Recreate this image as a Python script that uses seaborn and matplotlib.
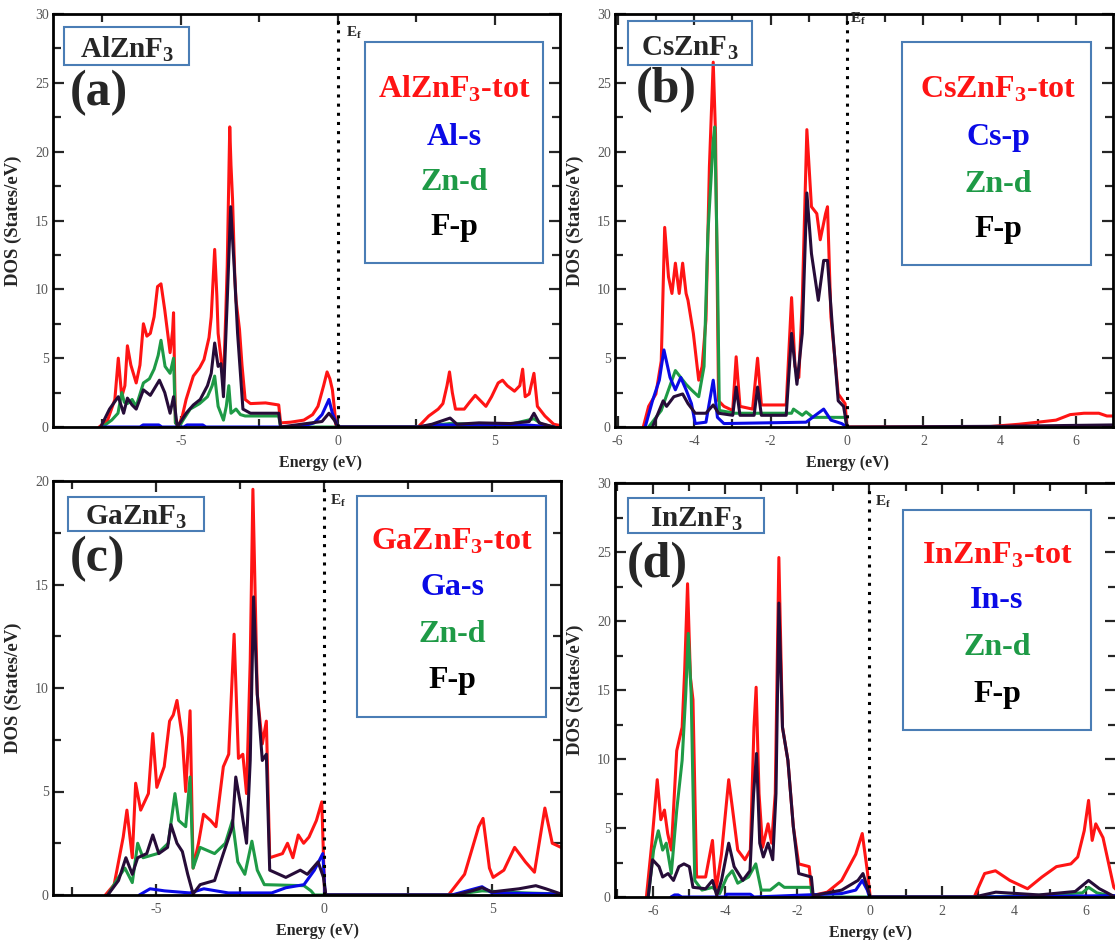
import matplotlib
matplotlib.use("Agg")
import matplotlib.pyplot as plt
import matplotlib.patches as mpatches
from matplotlib.ticker import MultipleLocator
import seaborn as sns

# ---------------- data (energy in eV, DOS in states/eV) ----------------
# Panel (a) AlZnF3
a_tot_E = [-7.6, -7.33, -7.1, -6.99, -6.88, -6.78, -6.7, -6.59, -6.42, -6.3, -6.19, -6.08, -5.97, -5.85, -5.74, -5.63, -5.51, -5.4, -5.34, -5.26, -5.23, -5.17, -5.06, -4.95, -4.83, -4.6, -4.4, -4.26, -4.1, -4.03, -3.92, -3.85, -3.81, -3.72, -3.64, -3.57, -3.52, -3.44, -3.4, -3.35, -3.28, -3.24, -3.13, -3.05, -2.95, -2.78, -2.3, -1.88, -1.82, -1.5, -1.08, -0.8, -0.63, -0.45, -0.34, -0.25, -0.17, -0.1, -0.06, 0.0, 2.56, 2.9, 3.2, 3.35, 3.48, 3.56, 3.65, 3.75, 4.03, 4.2, 4.38, 4.55, 4.72, 4.9, 5.11, 5.25, 5.4, 5.63, 5.8, 5.89, 5.97, 6.1, 6.25, 6.36, 6.6, 6.88, 7.1]
a_tot_V = [0, 0.5, 2.0, 5.0, 2.2, 3.0, 5.9, 4.5, 3.2, 4.5, 7.5, 6.6, 6.8, 8.0, 10.2, 10.4, 8.5, 6.5, 5.4, 7.0, 8.3, 0.3, 0.1, 0.8, 2.0, 3.7, 4.3, 4.9, 6.5, 8.0, 12.9, 9.5, 6.8, 5.0, 3.2, 8.0, 11.7, 21.8, 19.0, 16.5, 11.0, 9.2, 7.1, 4.5, 2.0, 1.7, 1.75, 1.6, 0.3, 0.35, 0.5, 0.9, 1.5, 3.0, 4.0, 3.5, 2.7, 1.2, 0.15, 0.0, 0.0, 0.8, 1.3, 1.7, 3.0, 4.0, 2.5, 1.3, 1.3, 1.8, 2.3, 1.9, 1.5, 2.2, 3.2, 3.4, 3.0, 2.6, 3.0, 4.2, 2.2, 2.4, 3.9, 1.5, 0.8, 0.2, 0.1]
a_zn_E = [-7.5, -7.2, -7.0, -6.88, -6.8, -6.7, -6.55, -6.42, -6.19, -6.0, -5.85, -5.72, -5.63, -5.5, -5.34, -5.23, -5.17, -5.06, -4.9, -4.7, -4.4, -4.15, -4.0, -3.92, -3.81, -3.64, -3.55, -3.47, -3.4, -3.24, -3.1, -2.95, -1.88, -1.82, 2.6, 3.56, 4.5, 5.5, 6.25, 6.5, 6.9]
a_zn_V = [0, 0.5, 1.0, 2.5, 1.8, 1.7, 2.0, 1.5, 3.2, 3.5, 4.2, 5.2, 6.3, 4.4, 3.9, 5.0, 0.3, 0.0, 0.6, 1.3, 1.7, 2.2, 3.0, 3.7, 1.5, 0.5, 1.5, 3.0, 1.0, 1.3, 0.9, 0.8, 0.8, 0.0, 0.0, 0.25, 0.2, 0.2, 0.6, 0.2, 0.0]
a_al_E = [-7.5, -6.3, -6.2, -5.7, -5.6, -4.9, -4.8, -4.3, -4.2, -1.2, -0.75, -0.5, -0.28, -0.17, -0.05, 0.0, 2.6, 3.0, 4.5, 6.0, 6.9]
a_al_V = [0, 0.0, 0.15, 0.15, 0.0, 0.0, 0.15, 0.15, 0.0, 0.0, 0.3, 0.9, 2.0, 1.0, 0.3, 0.0, 0.0, 0.15, 0.15, 0.15, 0.0]
a_f_E = [-7.55, -7.27, -6.99, -6.82, -6.7, -6.55, -6.42, -6.19, -5.97, -5.68, -5.51, -5.34, -5.23, -5.11, -4.83, -4.6, -4.38, -4.15, -4.03, -3.92, -3.81, -3.72, -3.64, -3.52, -3.41, -3.3, -3.19, -3.02, -2.78, -1.88, -1.82, -0.5, -0.28, -0.11, 0.0, 2.56, 3.0, 3.58, 3.8, 4.5, 5.5, 6.1, 6.25, 6.42, 6.88]
a_f_V = [0, 1.3, 2.2, 1.0, 2.1, 1.6, 1.3, 2.7, 2.3, 3.4, 2.5, 1.0, 2.2, 0.0, 1.0, 1.6, 2.0, 3.0, 3.9, 6.1, 4.4, 4.6, 2.2, 9.2, 16.0, 11.7, 6.8, 1.3, 1.0, 1.0, 0.0, 0.4, 1.0, 0.5, 0.0, 0.0, 0.2, 0.65, 0.2, 0.3, 0.25, 0.4, 1.0, 0.3, 0.0]

# Panel (b) CsZnF3
b_tot_E = [-5.33, -5.19, -5.0, -4.86, -4.77, -4.67, -4.58, -4.49, -4.39, -4.3, -4.21, -4.16, -4.02, -3.88, -3.79, -3.69, -3.6, -3.5, -3.44, -3.36, -3.22, -2.99, -2.9, -2.8, -2.47, -2.34, -2.24, -1.59, -1.45, -1.36, -1.26, -1.17, -1.05, -0.93, -0.79, -0.7, -0.56, -0.51, -0.42, -0.23, -0.05, 0.0, 3.6, 4.5, 5.0, 5.47, 5.84, 6.2, 6.59, 6.8, 6.96]
b_tot_V = [0, 1.5, 2.4, 4.8, 14.5, 10.9, 9.7, 11.9, 9.7, 11.9, 9.7, 9.2, 6.8, 3.4, 4.4, 7.8, 18.9, 26.5, 21.3, 1.9, 1.5, 1.2, 5.1, 1.5, 1.3, 5.0, 1.6, 1.6, 9.4, 4.4, 3.6, 9.2, 21.6, 16.0, 15.5, 13.6, 15.5, 16.0, 8.0, 2.4, 1.7, 0.0, 0.0, 0.2, 0.35, 0.5, 0.9, 1.0, 1.0, 0.8, 0.8]
b_zn_E = [-5.19, -4.86, -4.67, -4.49, -4.35, -4.21, -4.07, -3.88, -3.74, -3.64, -3.5, -3.46, -3.39, -3.34, -2.94, -1.45, -1.4, -1.17, -1.07, -0.89, -0.05, 0.0]
b_zn_V = [0, 1.2, 2.7, 4.1, 3.6, 3.1, 2.7, 2.2, 4.4, 14.0, 20.8, 21.8, 11.6, 1.2, 1.0, 1.0, 1.3, 0.85, 1.1, 0.7, 0.7, 0.0]
b_cs_E = [-5.28, -5.09, -4.91, -4.79, -4.63, -4.49, -4.35, -4.21, -4.07, -3.97, -3.69, -3.5, -3.39, -3.22, -1.07, -0.61, -0.42, -0.14, 0.0]
b_cs_V = [0, 1.9, 3.4, 5.6, 3.6, 2.7, 3.6, 2.7, 1.7, 0.25, 0.35, 3.4, 0.7, 0.25, 0.35, 1.3, 0.5, 0.25, 0.0]
b_f_E = [-5.09, -4.81, -4.72, -4.53, -4.3, -4.16, -3.97, -3.69, -3.5, -3.36, -2.99, -2.9, -2.8, -2.43, -2.34, -2.24, -1.59, -1.45, -1.31, -1.17, -1.05, -0.93, -0.75, -0.61, -0.51, -0.37, -0.23, -0.09, 0.0, 4.0, 6.96]
b_f_V = [0, 1.9, 1.5, 2.2, 2.4, 1.7, 1.0, 1.0, 1.6, 1.0, 0.85, 2.9, 0.85, 0.85, 2.9, 0.85, 0.85, 6.8, 3.1, 6.8, 17.0, 12.6, 9.2, 12.1, 12.1, 6.8, 1.9, 1.5, 0.0, 0.05, 0.15]

# Panel (c) GaZnF3
c_tot_E = [-6.51, -6.25, -5.98, -5.87, -5.71, -5.61, -5.46, -5.23, -5.1, -4.98, -4.76, -4.6, -4.49, -4.38, -4.22, -4.12, -3.99, -3.9, -3.74, -3.59, -3.38, -3.22, -3.0, -2.84, -2.68, -2.55, -2.42, -2.31, -2.2, -2.12, -1.99, -1.84, -1.72, -1.62, -1.24, -1.09, -0.93, -0.77, -0.61, -0.45, -0.23, -0.07, 0.01, 0.05, 3.7, 4.18, 4.6, 4.73, 4.92, 5.03, 5.35, 5.67, 5.99, 6.26, 6.57, 6.79, 7.05]
c_tot_V = [0, 0.5, 2.8, 4.1, 1.8, 5.4, 4.1, 4.9, 7.8, 5.2, 6.2, 8.4, 8.7, 9.4, 7.6, 5.0, 8.9, 1.3, 2.5, 3.9, 3.6, 3.3, 6.2, 6.8, 12.6, 6.6, 6.8, 4.9, 11.3, 19.6, 9.7, 7.3, 8.4, 1.8, 2.0, 2.5, 1.8, 2.9, 2.5, 2.8, 3.6, 4.5, 0.35, 0.0, 0.0, 1.0, 3.3, 3.7, 1.3, 0.85, 1.2, 2.3, 1.6, 1.1, 4.2, 2.5, 2.3]
c_zn_E = [-6.44, -6.12, -5.93, -5.71, -5.55, -5.39, -4.96, -4.64, -4.44, -4.33, -4.12, -3.99, -3.9, -3.69, -3.26, -2.94, -2.73, -2.57, -2.36, -2.15, -1.99, -1.78, -0.6, -0.39, -0.29, 3.8, 4.7, 6.0, 7.05]
c_zn_V = [0, 0.85, 1.3, 0.6, 2.5, 1.8, 2.0, 2.5, 4.9, 3.6, 3.3, 5.7, 1.3, 2.3, 2.0, 2.5, 3.6, 1.6, 1.0, 2.6, 1.2, 0.5, 0.45, 0.2, 0.0, 0.0, 0.2, 0.1, 0.05]
c_ga_E = [-5.5, -5.18, -4.75, -4.0, -3.58, -2.85, -1.56, -1.14, -0.6, -0.29, -0.04, 0.03, 3.8, 4.7, 5.0, 7.05]
c_ga_V = [0, 0.3, 0.2, 0.1, 0.3, 0.1, 0.1, 0.35, 0.5, 1.2, 2.0, 0.0, 0.0, 0.4, 0.1, 0.05]
c_f_E = [-6.44, -6.12, -5.9, -5.71, -5.55, -5.28, -5.1, -4.92, -4.66, -4.56, -4.38, -4.22, -4.06, -3.9, -3.69, -3.26, -3.0, -2.73, -2.63, -2.47, -2.31, -2.2, -2.1, -1.99, -1.84, -1.72, -1.62, -1.14, -0.71, -0.5, -0.18, -0.02, 0.05, 3.9, 4.4, 4.7, 5.0, 5.8, 6.3, 6.6, 7.05]
c_f_V = [0, 0.7, 1.8, 1.0, 1.8, 2.0, 2.9, 2.0, 2.3, 3.4, 2.5, 2.1, 1.0, 0.05, 0.5, 0.7, 2.0, 3.3, 5.7, 4.2, 2.5, 6.5, 14.4, 9.7, 6.5, 6.8, 1.2, 0.85, 1.2, 1.0, 1.6, 0.85, 0.0, 0.0, 0.2, 0.35, 0.15, 0.3, 0.45, 0.3, 0.05]

# Panel (d) InZnF3
d_tot_E = [-6.18, -6.03, -5.88, -5.78, -5.68, -5.59, -5.49, -5.34, -5.19, -5.12, -5.04, -4.96, -4.89, -4.79, -4.54, -4.35, -4.25, -4.1, -3.9, -3.8, -3.65, -3.45, -3.3, -3.2, -3.14, -3.06, -2.96, -2.81, -2.71, -2.61, -2.51, -2.41, -2.26, -2.11, -1.96, -1.67, -1.59, -1.17, -0.77, -0.38, -0.2, -0.06, 0.02, 2.9, 3.19, 3.49, 3.89, 4.38, 4.78, 5.18, 5.58, 5.77, 5.95, 6.07, 6.17, 6.27, 6.47, 6.77, 6.85]
d_tot_V = [0, 3.9, 8.5, 5.6, 6.3, 4.6, 3.4, 10.6, 12.3, 16.4, 22.7, 15.9, 14.3, 1.45, 1.45, 4.1, 0.5, 3.1, 8.5, 6.5, 3.4, 2.7, 3.4, 12.3, 15.2, 7.5, 3.6, 5.3, 3.9, 7.5, 24.6, 12.3, 9.9, 5.1, 2.4, 2.2, 0.1, 0.35, 1.2, 3.1, 4.6, 1.9, 0.0, 0.0, 1.7, 1.9, 1.2, 0.6, 1.45, 2.2, 2.4, 2.9, 4.8, 7.0, 4.1, 5.3, 4.3, 0.7, 0.5]
d_zn_E = [-6.13, -5.98, -5.85, -5.73, -5.63, -5.49, -5.34, -5.19, -5.09, -5.02, -4.94, -4.84, -4.64, -4.35, -4.15, -3.95, -3.8, -3.65, -3.35, -3.15, -3.0, -2.75, -2.51, -2.36, -1.62, -1.59, 3.0, 4.5, 5.9, 6.07, 6.3, 6.85]
d_zn_V = [0, 3.4, 4.8, 3.4, 3.9, 1.7, 6.3, 9.9, 14.7, 19.1, 14.7, 1.2, 0.5, 0.7, 0.25, 1.45, 1.9, 1.0, 1.45, 2.4, 0.5, 0.5, 1.0, 0.7, 0.7, 0.0, 0.0, 0.1, 0.3, 0.7, 0.3, 0.0]
d_in_E = [-5.5, -5.4, -5.3, -5.2, -4.0, -3.95, -3.3, -3.2, -0.77, -0.38, -0.2, -0.06, 0.0, 3.0, 6.85]
d_in_V = [0, 0.15, 0.15, 0.0, 0.0, 0.2, 0.2, 0.0, 0.25, 0.5, 1.2, 0.5, 0.0, 0.0, 0.1]
d_f_E = [-6.13, -6.01, -5.83, -5.73, -5.58, -5.43, -5.28, -5.14, -4.99, -4.89, -4.54, -4.35, -4.23, -4.1, -3.9, -3.75, -3.51, -3.31, -3.21, -3.13, -3.04, -2.94, -2.81, -2.68, -2.59, -2.51, -2.41, -2.26, -2.11, -1.96, -1.61, -1.56, -0.77, -0.32, -0.18, -0.06, 0.02, 2.9, 3.5, 4.7, 5.7, 6.07, 6.37, 6.77]
d_f_V = [0, 2.7, 2.2, 1.45, 1.7, 1.2, 2.2, 2.4, 2.2, 0.7, 0.6, 1.2, 0.1, 1.2, 3.9, 2.2, 1.2, 1.9, 7.5, 10.4, 3.9, 2.9, 3.9, 2.7, 7.5, 21.3, 12.3, 9.9, 5.1, 1.7, 1.45, 0.1, 0.5, 1.2, 1.7, 0.7, 0.0, 0.0, 0.35, 0.15, 0.4, 1.2, 0.6, 0.05]

compounds = ["AlZn", "CsZn", "GaZn", "InZn"]
panel_tags = ["(a)", "(b)", "(c)", "(d)"]
partial_names = [["Al-s", "Zn-d", "F-p"], ["Cs-p", "Zn-d", "F-p"],
                 ["Ga-s", "Zn-d", "F-p"], ["In-s", "Zn-d", "F-p"]]
series = [
    [(a_tot_E, a_tot_V), (a_zn_E, a_zn_V), (a_al_E, a_al_V), (a_f_E, a_f_V)],
    [(b_tot_E, b_tot_V), (b_zn_E, b_zn_V), (b_cs_E, b_cs_V), (b_f_E, b_f_V)],
    [(c_tot_E, c_tot_V), (c_zn_E, c_zn_V), (c_ga_E, c_ga_V), (c_f_E, c_f_V)],
    [(d_tot_E, d_tot_V), (d_zn_E, d_zn_V), (d_in_E, d_in_V), (d_f_E, d_f_V)],
]

# ---------------- style ----------------
sns.set_style("ticks")
plt.rcParams["font.family"] = ["Liberation Serif", "DejaVu Serif"]
plt.rcParams["mathtext.fontset"] = "custom"
plt.rcParams["mathtext.rm"] = "Liberation Serif"
plt.rcParams["mathtext.bf"] = "Liberation Serif:bold"
plt.rcParams["mathtext.it"] = "Liberation Serif:italic"
plt.rcParams["axes.unicode_minus"] = False

RED, GREEN, BLUE, DARK = "#ff1414", "#1e9a46", "#0a0ae6", "#260c38"
BOXC = "#4a7db5"
W, H = 1115.0, 940.0

def fx(x):
    return x / W

def fy(y):
    return 1 - y / H

fig = plt.figure(figsize=(11.15, 9.4), dpi=100)

# layout per panel (pixel coordinates)
axes_px = [(53, 14, 560, 427), (615, 14, 1113, 427), (53, 481, 561, 895), (615, 483, 1116, 897)]
xlims = [(-9.07, 7.08), (-6.07, 6.96), (-8.07, 7.05), (-7.05, 6.83)]
ylims = [30, 30, 20, 30]
xmaj = [5, 2, 5, 2]
title_box = [(64, 27, 189, 65), (628, 21, 752, 65), (68, 497, 204, 531), (628, 498, 764, 533)]
title_txt = [(127, 58), (690, 56), (136, 525), (696, 527)]
tag_pos = [(99, 93), (666, 90), (97, 559), (657, 565)]
leg_box = [(365, 42, 543, 263), (902, 42, 1091, 265), (357, 496, 546, 717), (903, 510, 1091, 730)]
leg_x = [454, 998, 452, 997]
leg_base = [[98, 145, 190, 235], [97, 145, 192, 237], [550, 595, 642, 688], [563, 608, 655, 702]]
ef_pos = [(346, 33), (850, 19), (330, 501), (875, 502)]
xlab_x = [0.527, 0.466, 0.52, 0.509]

for i in range(4):
    l, t, r, b = axes_px[i]
    ax = fig.add_axes([fx(l), fy(b), (r - l) / W, (b - t) / H])
    cols = [RED, GREEN, BLUE, DARK]
    for (E, V), c in zip(series[i], cols):
        sns.lineplot(x=E, y=V, ax=ax, color=c, linewidth=2.2, sort=False,
                     estimator=None, legend=False)
    ax.axvline(0, color="black", linestyle=(0, (1, 2)), linewidth=2.2)
    ax.set_xlim(*xlims[i])
    ax.set_ylim(0, ylims[i])
    ax.xaxis.set_major_locator(MultipleLocator(xmaj[i]))
    ax.xaxis.set_minor_locator(MultipleLocator(xmaj[i] / 2))
    ax.yaxis.set_major_locator(MultipleLocator(5))
    ax.yaxis.set_minor_locator(MultipleLocator(2.5))
    ax.tick_params(which="both", direction="in", top=True, right=True, width=1.6,
                   labelsize=10, labelcolor="#555555")
    ax.tick_params(which="major", length=8)
    ax.tick_params(which="minor", length=6)
    ax.tick_params(axis="x", pad=6)
    ax.tick_params(axis="y", pad=3)
    for s in ax.spines.values():
        s.set_linewidth(2.0)
        s.set_color("black")
    ax.set_xlabel("Energy (eV)", fontsize=11.5, fontweight="bold")
    ax.set_ylabel("DOS (States/eV)", fontsize=13.5, fontweight="bold")
    ax.xaxis.set_label_coords(xlab_x[i], -0.068)
    ax.yaxis.set_label_coords(-0.062, 0.5)

    # compound title box
    x0, y0, x1, y1 = title_box[i]
    fig.add_artist(mpatches.Rectangle((fx(x0), fy(y1)), (x1 - x0) / W, (y1 - y0) / H,
                                      transform=fig.transFigure, fill=False,
                                      edgecolor=BOXC, linewidth=1.5))
    fig.text(fx(title_txt[i][0]), fy(title_txt[i][1]),
             compounds[i] + r"F$_{\mathbf{3}}$", fontsize=21, fontweight="bold",
             ha="center", va="baseline")
    fig.text(fx(tag_pos[i][0]), fy(tag_pos[i][1]), panel_tags[i], fontsize=36,
             fontweight="bold", ha="center", va="center")

    # legend box
    x0, y0, x1, y1 = leg_box[i]
    fig.add_artist(mpatches.Rectangle((fx(x0), fy(y1)), (x1 - x0) / W, (y1 - y0) / H,
                                      transform=fig.transFigure, fill=False,
                                      edgecolor=BOXC, linewidth=1.5))
    labels = [compounds[i] + r"F$_{\mathbf{3}}$-tot"] + partial_names[i]
    lcols = [RED, BLUE, GREEN, "black"]
    for lab, c, yb in zip(labels, lcols, leg_base[i]):
        fig.text(fx(leg_x[i]), fy(yb), lab, fontsize=23, fontweight="bold",
                 color=c, ha="center", va="baseline")

    # Fermi level label
    fig.text(fx(ef_pos[i][0]), fy(ef_pos[i][1]), r"$\mathbf{E_f}$", fontsize=11,
             ha="left", va="center")

fig.savefig("out.png", dpi=100)
